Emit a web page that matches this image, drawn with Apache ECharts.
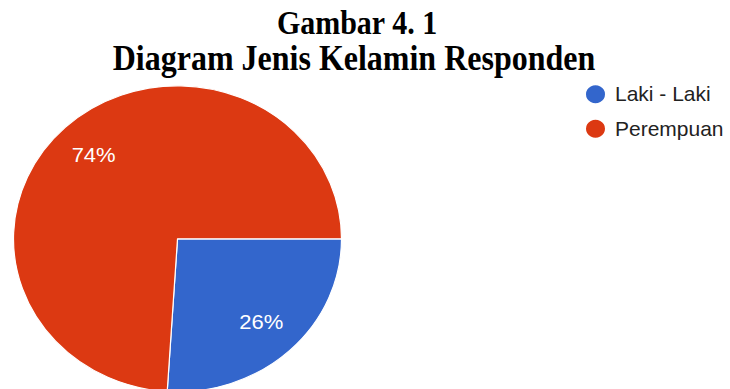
<!DOCTYPE html>
<html>
<head>
<meta charset="utf-8">
<script src="https://cdn.jsdelivr.net/npm/echarts@6/dist/echarts.min.js"></script>
<style>
html,body{margin:0;padding:0;background:#fff;overflow:hidden;width:730px;height:389px;}
#wrap{width:730px;height:389px;overflow:hidden;position:relative;}
#chart{width:730px;height:417px;transform:scaleY(0.933);transform-origin:0 0;position:absolute;left:0;top:0;}
</style>
</head>
<body>
<div id="wrap"><div id="chart"></div></div>
<script>
const titleLines = ['Gambar 4. 1', 'Diagram Jenis Kelamin Responden'];
const categories = ['Laki - Laki', 'Perempuan'];
const values = [26, 74];
const colors = ['#3366cc', '#dc3912'];

const data = categories.map((c, i) => ({ name: c, value: values[i], itemStyle: { color: colors[i] } }));

const chart = echarts.init(document.getElementById('chart'), null, { renderer: 'svg' });
chart.setOption({
  animation: false,
  backgroundColor: '#ffffff',
  graphic: [
    { type: 'text', x: 357, y: 5.5, scaleY: 1.21, silent: true,
      style: { text: titleLines[0], font: 'bold 30px "Liberation Serif", "Times New Roman", serif', fill: '#000', textAlign: 'center', verticalAlign: 'top' } },
    { type: 'text', x: 354, y: 42.8, scaleY: 1.21, silent: true,
      style: { text: titleLines[1], font: 'bold 32px "Liberation Serif", "Times New Roman", serif', fill: '#000', textAlign: 'center', verticalAlign: 'top' } }
  ],
  legend: {
    orient: 'vertical',
    left: 584,
    top: 89.5,
    padding: 0,
    icon: 'circle',
    itemWidth: 29,
    itemHeight: 21,
    itemGap: 14,
    data: categories.map((c, i) => ({ name: c, itemStyle: { color: colors[i] } })),
    textStyle: { fontFamily: '"Liberation Sans", Arial, sans-serif', fontSize: 21, color: '#222' },
    selectedMode: false
  },
  series: [
    {
      type: 'pie',
      center: [177.5, 256],
      radius: [0, 164],
      startAngle: 0,
      clockwise: true,
      silent: true,
      itemStyle: { borderColor: '#ffffff', borderWidth: 1.2 },
      label: { show: false },
      labelLine: { show: false },
      emphasis: { disabled: true },
      data: data
    },
    {
      type: 'pie',
      center: [177.5, 256],
      radius: [75, 164],
      startAngle: 0,
      clockwise: true,
      silent: true,
      itemStyle: { color: 'rgba(0,0,0,0)', borderWidth: 0 },
      label: {
        show: true,
        position: 'inside',
        formatter: '{c}%',
        color: '#ffffff',
        fontSize: 22,
        fontFamily: '"Liberation Sans", Arial, sans-serif'
      },
      labelLine: { show: false },
      emphasis: { disabled: true },
      data: categories.map((c, i) => ({ name: c, value: values[i], itemStyle: { color: 'rgba(0,0,0,0)' } }))
    }
  ]
});
</script>
</body>
</html>
